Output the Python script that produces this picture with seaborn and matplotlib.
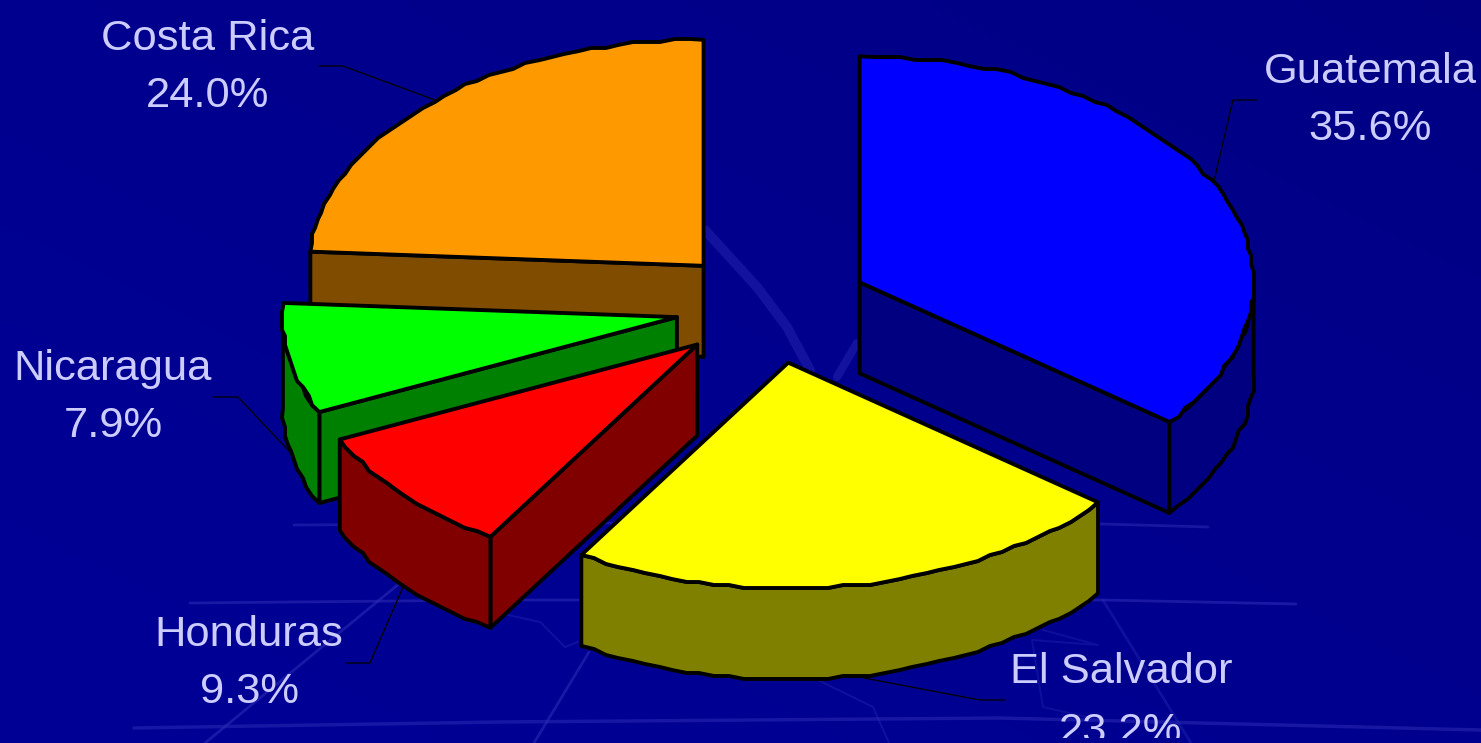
import numpy as np
import matplotlib
matplotlib.use("Agg")
import matplotlib.pyplot as plt
import seaborn as sns
from matplotlib.colors import to_rgb
from matplotlib.patches import Rectangle

countries = ["Guatemala", "El Salvador", "Honduras", "Nicaragua", "Costa Rica"]
shares = [35.6, 23.2, 9.3, 7.9, 24.0]
explode = [0.25, 0.25, 0.25, 0.243, 0.25]
slice_colors = ["#0000ff", "#ffff00", "#ff0000", "#00ff00", "#ff9900"]
draw_order = ["Costa Rica", "Guatemala", "Nicaragua", "Honduras", "El Salvador"]

# where the labels sit: centre x, baseline of the name, baseline of the percent
label_x = [1370, 1121, 249, 113, 208]
name_y = [83, 683, 646, 380, 50]
pct_y = [140, 743, 703, 437, 107]
leaders = [
    [(1257, 100), (1233, 100), (1214, 181)],
    [(1005, 700), (980, 700), (864, 678)],
    [(346, 663), (370, 663), (403, 587)],
    [(213, 397), (238, 397), (290, 452)],
    [(319, 66), (343, 66), (435, 100)],
]

CX, CY = 771, 307      # pie centre before exploding
RX, RY = 394, 226      # ellipse of the tilted pie
DEPTH = 91
GRID = 3               # the source chart has a chunky outline


def arc(a0, a1, center, drop=0):
    n = max(int(abs(a1 - a0) / 2), 2)
    t = np.radians(np.linspace(a0, a1, n))
    x = center[0] + RX * np.sin(t)
    y = center[1] - RY * np.cos(t) + drop
    # snap inner points to a coarse grid, ends stay exact
    x[1:-1] = np.round(x[1:-1] / GRID) * GRID
    y[1:-1] = np.round(y[1:-1] / GRID) * GRID
    return np.column_stack([x, y])


def face_visible(ang, a0, a1):
    # radial wall shows when the top of the slice is above the cut edge
    dx = RX * np.sin(np.radians(ang))
    dy = -RY * np.cos(np.radians(ang))
    if abs(dx) < 1:
        return False
    mid = np.radians((a0 + a1) / 2)
    mx, my = 0.5 * RX * np.sin(mid), -0.5 * RY * np.cos(mid)
    return my < dy / dx * mx


def draw_slice(ax, a0, a1, color, ex):
    mid = np.radians((a0 + a1) / 2)
    center = (CX + ex * RX * np.sin(mid), CY - ex * RY * np.cos(mid))
    side = tuple(c * 0.5 for c in to_rgb(color))
    style = dict(ec="black", lw=2.8, joinstyle="round")

    for ang in (a0, a1):
        if face_visible(ang, a0, a1):
            edge = arc(ang, ang, center)[:1]
            wall = [center, edge[0], edge[0] + (0, DEPTH), (center[0], center[1] + DEPTH)]
            ax.fill(*zip(*wall), fc=side, zorder=3, **style)

    lo, hi = max(a0, 90), min(a1, 270)
    if lo < hi:
        top = arc(lo, hi, center)
        rim = np.vstack([top, (top + (0, DEPTH))[::-1]])
        ax.fill(rim[:, 0], rim[:, 1], fc=side, zorder=3, **style)

    outline = np.vstack([[center], arc(a0, a1, center)])
    ax.fill(outline[:, 0], outline[:, 1], fc=color, zorder=3, **style)


sns.set_theme(style="white")
plt.rcParams["font.family"] = ["Liberation Sans", "DejaVu Sans"]
palette = dict(zip(countries, sns.color_palette(slice_colors)))

fig = plt.figure(figsize=(14.81, 7.43), dpi=100)
ax = fig.add_axes([0, 0, 1, 1])

# slide background, slightly brighter at lower left
yy, xx = np.mgrid[0:1:64j, 0:1:128j]
shade = np.clip(0.5 + 0.5 * yy - 0.5 * xx, 0, 1)
bg = np.zeros(yy.shape + (3,))
bg[..., 2] = (128 + 22 * shade ** 0.6) / 255
ax.imshow(bg, extent=(0, 1481, 743, 0), aspect="auto", interpolation="bilinear", zorder=0)

# faint map lines behind the pie
faint = "#2a2ab4"
for xs, ys, w, a in [
    ([294, 600, 1103, 1208], [525, 523, 524, 527], 2, 0.55),
    ([190, 500, 1103, 1296], [603, 600, 600, 604], 2, 0.6),
    ([134, 500, 1000, 1481], [728, 722, 718, 730], 2.5, 0.55),
    ([205, 400], [743, 583], 2, 0.6),
    ([534, 589], [743, 652], 2, 0.6),
    ([1103, 1191], [600, 743], 2, 0.4),
    ([508, 540, 565, 583], [615, 622, 647, 640], 1.5, 0.4),
    ([818, 873, 889], [680, 707, 743], 1.5, 0.4),
    ([1043, 1098, 1032, 1043, 1100], [630, 645, 640, 707, 720], 1.5, 0.35),
    ([705, 757, 787, 810], [230, 287, 327, 370], 7, 0.45),
    ([837, 857], [377, 343], 6, 0.45),
]:
    ax.plot(xs, ys, color=faint, lw=w, alpha=a, solid_capstyle="round", zorder=1)

angles = np.cumsum([0] + shares) * 3.6
spans = dict(zip(countries, zip(angles[:-1], angles[1:])))
explode_by = dict(zip(countries, explode))
for name in draw_order:
    draw_slice(ax, *spans[name], palette[name], explode_by[name])

label_color = "#ccccff"
slide_clip = Rectangle((0, 0), 1481, 738, transform=ax.transData)
for name, val, x, y0, y1, pts in zip(countries, shares, label_x, name_y, pct_y, leaders):
    ax.text(x, y0, name, color=label_color, fontsize=31.3, ha="center", va="baseline", zorder=5)
    pct = ax.text(x, y1, f"{val:.1f}%", color=label_color, fontsize=31.3, ha="center", va="baseline",
                  zorder=5, clip_on=True)
    pct.set_clip_path(slide_clip)
    ax.plot(*zip(*pts), color="black", lw=0.9, zorder=2)

ax.set_xlim(0, 1481)
ax.set_ylim(743, 0)
ax.axis("off")
fig.savefig("out.png", dpi=100)
